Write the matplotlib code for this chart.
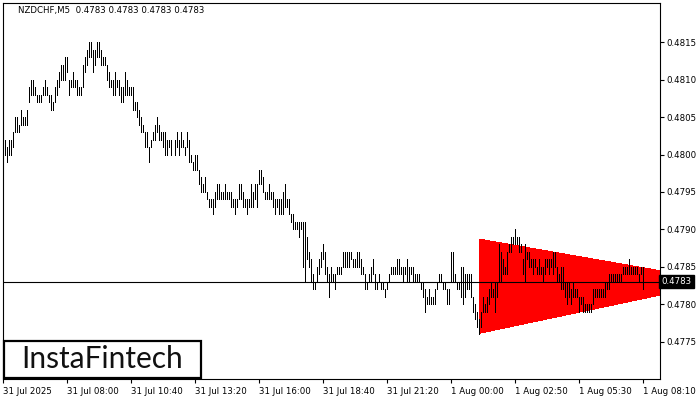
import matplotlib
matplotlib.use("Agg")
import matplotlib.pyplot as plt
from matplotlib.patches import Polygon, Rectangle

# ---------------- data ----------------
BASE = 0.4770      # price of 0 pips
PIP = 0.0001

# bar highs / lows in pips above BASE (NZDCHF M5, 321 bars)
high_pips = [
    31, 32, 31, 32, 32, 33, 35, 35, 34, 36, 35, 35, 36, 39, 40, 40, 39, 38, 38, 38,
    39, 40, 39, 38, 38, 37, 39, 40, 41, 42, 42, 43, 43, 40, 40, 41, 40, 40, 39, 39,
    42, 43, 44, 45, 45, 44, 44, 45, 45, 44, 43, 43, 42, 41,
    40, 40, 41, 40, 40, 39, 39, 41, 40, 39, 39, 39, 37, 37, 36, 35, 34, 33, 33, 31,
    32, 33, 34, 35, 34, 33, 33, 33, 32, 32, 32, 31, 32, 33, 32, 33, 32, 31, 33, 32,
    30, 29, 30, 30, 28, 27, 26, 27, 25, 24, 24, 24, 25, 26, 26,
    25, 25, 26, 25, 25, 25, 24, 24, 24, 26, 26, 25, 24, 24, 24, 26, 25, 26, 26, 28,
    28, 27, 25, 25, 26, 25, 25, 24, 24, 24, 24, 25, 26, 24, 24, 22, 22, 21, 21, 21,
    21, 21, 21, 19, 17, 16, 14, 13, 15, 16, 17, 18, 17, 15, 14,
    15, 14, 14, 15, 15, 15, 17, 17, 17, 17, 17, 16, 16, 17, 17, 16, 15, 14, 13, 14,
    15, 16, 14, 13, 14, 13, 13, 12, 13, 14, 15, 15, 15, 16, 16, 15, 15, 15, 16, 15,
    15, 15, 14, 14, 14, 13, 13, 12, 11, 12, 11, 11, 12, 13, 14,
    14, 13, 13, 12, 12, 17, 17, 14, 13, 13, 15, 15, 14, 14, 14, 14, 11, 10, 9, 8,
    9, 11, 10, 11, 12, 13, 12, 13, 13, 18, 17, 16, 15, 17, 18, 19, 19, 20, 19, 19,
    18, 16, 18, 17, 17, 16, 16, 16, 15, 16, 15, 15, 16, 16, 16,
    16, 17, 17, 15, 14, 15, 15, 13, 13, 13, 12, 13, 12, 12, 11, 11, 11, 10, 10, 10,
    10, 12, 12, 12, 12, 12, 12, 13, 13, 14, 14, 14, 14, 14, 14, 14, 15, 15, 15, 16,
    15, 15, 15, 15, 14, 15, 15,
]
low_pips = [
    30, 30, 29, 30, 30, 31, 33, 33, 33, 34, 34, 34, 34, 37, 38, 38, 38, 37, 37, 37,
    38, 38, 38, 37, 36, 36, 37, 38, 39, 40, 40, 40, 41, 38, 39, 39, 39, 38, 38, 38,
    39, 41, 42, 43, 43, 41, 42, 43, 43, 42, 42, 42, 40, 39,
    39, 38, 38, 39, 38, 37, 37, 38, 38, 38, 38, 36, 36, 35, 34, 33, 33, 31, 31, 29,
    31, 32, 32, 33, 32, 32, 31, 30, 30, 31, 30, 31, 30, 31, 30, 31, 31, 30, 31, 29,
    29, 28, 28, 28, 26, 25, 25, 25, 24, 23, 23, 22, 23, 24, 24,
    24, 24, 24, 24, 24, 23, 23, 22, 23, 24, 24, 23, 23, 22, 23, 23, 23, 24, 23, 26,
    26, 25, 24, 24, 24, 24, 23, 22, 23, 22, 22, 22, 23, 23, 22, 21, 20, 20, 20, 19,
    20, 15, 13, 16, 15, 13, 12, 12, 13, 14, 15, 16, 14, 13, 11,
    13, 13, 12, 14, 14, 14, 15, 15, 15, 15, 16, 15, 15, 15, 15, 14, 14, 12, 12, 13,
    13, 14, 12, 12, 13, 12, 12, 11, 12, 13, 14, 14, 14, 14, 14, 14, 13, 14, 13, 13,
    14, 13, 13, 13, 13, 12, 11, 9, 10, 10, 10, 10, 10, 12, 13,
    13, 12, 12, 10, 10, 13, 13, 13, 12, 12, 11, 10, 11, 12, 12, 11, 9, 8, 7, 6,
    7, 9, 9, 9, 10, 11, 11, 9, 11, 13, 13, 14, 14, 14, 17, 17, 18, 18, 18, 17,
    17, 14, 13, 16, 15, 15, 14, 15, 14, 14, 14, 13, 14, 15, 14,
    15, 14, 15, 13, 13, 12, 12, 11, 10, 11, 10, 11, 11, 11, 9, 10, 9, 9, 9, 9,
    9, 10, 11, 11, 11, 11, 11, 11, 12, 12, 13, 13, 13, 13, 13, 13, 14, 14, 14, 14,
    14, 14, 14, 14, 13, 14, 12,
]

time_labels = ["31 Jul 2025", "31 Jul 08:00", "31 Jul 10:40", "31 Jul 13:20",
               "31 Jul 16:00", "31 Jul 18:40", "31 Jul 21:20", "1 Aug 00:00",
               "1 Aug 02:50", "1 Aug 05:30", "1 Aug 08:10"]
bars_per_label = 32
price_ticks = [0.4775, 0.4780, 0.4785, 0.4790, 0.4795, 0.4800, 0.4805, 0.4810, 0.4815]
last_price = 0.4783
title_text = "NZDCHF,M5  0.4783 0.4783 0.4783 0.4783"
logo_text = "InstaFintech"

# bearish symmetrical triangle (bar index, price)
tri_bars = [238, 360, 238]
tri_prices = [0.47887, 0.4783, 0.47761]

# ---------------- figure ----------------
W, H = 700, 400
fig = plt.figure(figsize=(W / 100, H / 100), dpi=100)
fig.patch.set_facecolor("white")
ax = fig.add_axes([2.5 / W, (H - 379) / H, (659.5 - 2.5) / W, (379 - 2.7) / H])
ax.set_facecolor("white")

n = len(high_pips)
xs = list(range(n))
highs = [BASE + h * PIP for h in high_pips]
lows = [BASE + l * PIP for l in low_pips]
lows = [l - 0.000004 if abs(h - l) < 1e-9 else l for h, l in zip(highs, lows)]

# triangle
ax.add_patch(Polygon(list(zip(tri_bars, tri_prices)), closed=True,
                     facecolor="#ff0000", edgecolor="none", zorder=1,
                     antialiased=False))

# current price line
ax.axhline(last_price, color="black", linewidth=0.8, zorder=2)

# OHLC bars
ax.vlines(xs, lows, highs, colors="black", linewidth=0.72, zorder=3,
          antialiased=False)

ax.set_xlim(-0.25, 328.25)
ax.set_ylim(0.4770, 0.48203)

for s in ax.spines.values():
    s.set_color("black")
    s.set_linewidth(0.8)

font = "DejaVu Sans"
ax.yaxis.tick_right()
ax.set_yticks(price_ticks)
ax.set_yticklabels([f"{p:.4f}" for p in price_ticks], fontsize=6.2,
                   family=font, color="black")
ax.set_xticks([i * bars_per_label for i in range(len(time_labels))])
ax.set_xticklabels(time_labels, fontsize=6.2, family=font, color="black",
                   ha="left")
ax.tick_params(axis="both", direction="out", length=3, width=0.8,
               colors="black", pad=2)
ax.tick_params(axis="x", pad=3)

# last price marker on the right axis
ax.text(1.003, last_price, f"{last_price:.4f}", transform=ax.get_yaxis_transform(),
        ha="left", va="center", fontsize=6.2, family=font, color="white",
        clip_on=False, zorder=5,
        bbox=dict(boxstyle="square,pad=0.25", facecolor="black", edgecolor="black"))

# title
fig.text(18 / W, (H - 11) / H, title_text, fontsize=6.2, family=font,
         color="black", va="center", ha="left")

# logo
fig.patches.append(Rectangle((3.5 / W, (H - 378) / H), 197 / W, 37 / H,
                             transform=fig.transFigure, facecolor="white",
                             edgecolor="black", linewidth=1.6, zorder=10))
fig.text(102.5 / W, (H - 359.5) / H, logo_text, fontsize=21.5, family="Lato",
         color="#111111", ha="center", va="center", zorder=11)

fig.savefig("out.png", dpi=100)
